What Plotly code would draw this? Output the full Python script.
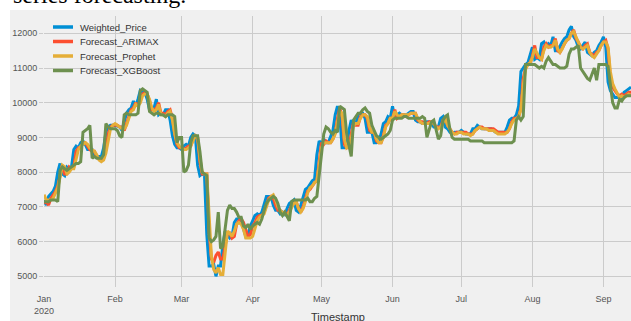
import pandas as pd
import plotly.graph_objects as go

start_date = "2020-01-01"
n_days = 257

weighted_price = [
    7200,7050,7300,7380,7450,7600,8000,8250,7950,7900,8150,8100,8150,8650,8750,8700,8850,8900,8800,8650,8650,8650,8500,8450,8450,8450,8700,9150,9300,9350,9350,
    9350,9330,9300,9200,9450,9700,9800,9850,10050,9900,10100,10350,10300,10300,10100,9800,9800,9850,10100,9650,9700,9650,9800,9800,9500,9050,8800,8700,8700,
    8650,8750,8800,8750,9000,9100,9050,8200,7900,7950,7900,6200,5300,5300,5350,5000,5300,5300,5900,6300,6200,6100,6150,6550,6650,6650,6600,6350,6150,6200,6450,
    6600,6750,6800,6750,6850,7100,7300,7300,7300,7050,6900,6900,6800,6850,6750,6950,7100,7150,7200,6900,6850,7050,7300,7500,7550,7650,7750,7800,8500,8900,
    8800,8950,8850,8850,9000,9200,9650,9900,9600,8700,8700,8750,9200,9500,9350,9400,9650,9700,9700,9550,9150,9150,9150,8850,8850,8900,9100,9400,9450,9600,9550,
    9900,9550,9650,9700,9650,9650,9650,9700,9750,9750,9500,9450,9450,9400,9400,9450,9450,9400,9300,9300,9300,9550,9600,9300,9250,9150,9100,9150,9150,9150,
    9200,9150,9100,9100,9100,9250,9250,9350,9300,9250,9250,9250,9250,9250,9200,9150,9150,9150,9150,9150,9300,9500,9550,9550,9650,9900,10900,11000,11100,11150,11350,
    11600,11250,11300,11250,11700,11750,11600,11700,11650,11900,11500,11500,11650,11750,11850,11900,12100,12200,11900,11800,11600,11550,11650,11750,11450,11400,11350,11450,11500,11650,11750,
    11900,11600,10600,10350,10250,10150,10150,10200,10150,10300,10350,10400,10450,
]

forecast_arimax = [
    7100,7150,7050,7250,7350,7450,7600,7950,8200,7950,7950,8150,8100,8150,8600,8700,8700,8850,8850,8750,8650,8600,8600,8450,8400,8350,8400,8650,9100,9300,9350,
    9350,9350,9300,9300,9200,9400,9650,9800,9850,10000,9900,10050,10250,10300,10250,10050,9800,9800,9850,10000,9700,9700,9650,9750,9800,9550,9100,8800,8700,
    8700,8650,8700,8750,8750,8950,9050,9000,8300,7950,7950,7950,6300,5500,5400,5600,5700,5500,5500,5900,6250,6250,6100,6150,6500,6600,6650,6550,6350,6150,6200,
    6450,6550,6700,6750,6750,6850,7050,7250,7300,7250,7050,6900,6900,6800,6850,6750,6900,7050,7100,7150,6950,6850,7000,7200,7450,7500,7600,7700,7750,8400,
    8850,8800,8900,8850,8850,8950,9150,9550,9850,9600,8800,8700,8700,9100,9450,9350,9350,9600,9650,9650,9550,9200,9150,9150,8900,8850,8850,9050,9350,9400,9550,
    9550,9800,9550,9600,9650,9650,9600,9650,9700,9700,9700,9500,9450,9450,9400,9400,9450,9450,9400,9300,9300,9300,9500,9550,9350,9250,9150,9100,9150,9150,
    9150,9150,9150,9100,9100,9100,9200,9250,9300,9300,9250,9250,9250,9250,9250,9200,9150,9150,9150,9150,9150,9250,9450,9550,9550,9600,9850,10700,11000,11100,11150,
    11350,11650,11300,11300,11250,11600,11700,11600,11650,11650,11850,11500,11450,11600,11700,11800,11850,12000,12100,11850,11750,11600,11550,11650,11700,11450,11400,11350,11450,11500,11650,
    11750,11800,11550,10700,10450,10350,10250,10200,10250,10200,10250,10300,10300,
]

forecast_prophet = [
    7350,7200,7200,7200,7250,7400,7550,7850,8200,8150,7950,8000,8100,8100,8400,8650,8750,8800,8850,8800,8700,8650,8600,8500,8350,8300,8350,8550,8950,9250,9350,
    9400,9350,9300,9250,9250,9350,9550,9750,9800,9950,9900,10000,10200,10250,10250,10100,9850,9750,9800,9950,9650,9650,9600,9700,9750,9500,9100,8850,8750,
    8700,8650,8650,8700,8750,8900,9050,9000,8400,8000,7950,7950,6600,5600,5200,5100,5250,5050,5050,5600,6300,6250,6150,6300,6500,6550,6500,6350,6100,6100,6100,
    6150,6350,6600,6700,6750,6800,7000,7200,7300,7350,7200,7000,6900,6850,6800,6750,6850,7000,7100,7150,6950,6850,6950,7150,7400,7550,7600,7700,7750,8200,
    8700,8850,8850,8850,8850,8950,9100,9450,9750,9700,8950,8700,8750,8950,9350,9400,9400,9550,9650,9650,9600,9300,9150,9150,8950,8850,8850,9000,9300,9400,9550,
    9550,9750,9650,9600,9650,9650,9650,9650,9700,9700,9700,9550,9450,9400,9400,9400,9400,9450,9400,9300,9250,9300,9450,9550,9350,9250,9150,9100,9100,9150,
    9150,9100,9100,9100,9050,9100,9200,9250,9300,9250,9250,9250,9200,9200,9200,9150,9100,9100,9100,9100,9150,9250,9400,9500,9550,9600,9800,10500,10950,11100,11150,
    11300,11550,11400,11300,11250,11500,11650,11600,11600,11650,11800,11550,11450,11550,11700,11800,11850,12000,12050,11900,11750,11600,11550,11600,11650,11450,11350,11300,11400,11500,11650,
    11750,11750,11600,10900,10550,10400,10250,10150,10200,10150,10200,10250,10200,
]

forecast_xgboost = [
    7150,7150,7150,7200,7200,7200,7150,8050,8150,8100,8050,8100,8150,8200,8250,8250,8300,9150,9200,9250,9350,8400,8450,8400,8400,8400,8500,9400,9300,9250,9250,
    9250,9200,9050,9000,9650,9700,9650,9650,9650,9650,9700,10350,10400,10350,10300,9750,9700,9650,9700,9700,9650,9650,9600,9650,9650,9650,9600,8850,9000,
    9000,8000,8050,8200,8850,9050,9050,9050,8600,8000,7950,7900,6100,6000,6050,6150,6850,5800,5850,6300,6900,7050,6950,6950,6850,6700,6700,6450,6400,6500,6350,
    6450,6500,6550,6500,6650,6900,7100,7200,7250,7300,7250,7100,6850,6750,6850,6700,6600,7150,7200,7200,7200,7200,7200,7200,7250,7150,7150,7250,7300,7900,
    8400,9100,9300,9250,9150,9100,9200,9150,9900,9850,9800,9100,8800,8450,9500,9600,9700,9700,9800,9850,9750,9700,9350,9200,9050,9000,8950,9000,9050,9100,9200,
    9500,9550,9550,9550,9550,9600,9600,9550,9550,9550,9550,9550,9550,9600,9550,9000,9200,9450,9500,9200,8950,9050,9500,9600,9650,9250,9000,8950,8950,8950,
    8950,8950,8950,8950,8900,8900,8900,8900,8900,8900,8850,8850,8850,8850,8850,8850,8850,8850,8850,8850,8850,8850,8850,8900,9500,9600,9500,9600,11100,11100,11100,
    11100,11100,11050,11000,11050,11000,11200,11300,11200,11100,11100,11050,11000,11000,11000,11050,11400,11550,11550,11600,11650,11000,10900,10800,10700,10650,10800,11000,10650,11100,11100,
    11100,11100,11050,10500,10000,9850,9850,10100,10050,10150,10200,10200,10200,
]

series_names = ["Weighted_Price", "Forecast_ARIMAX", "Forecast_Prophet", "Forecast_XGBoost"]
series_colors = ["#008fd5", "#fc4f30", "#e5ae38", "#6d904f"]

y_tick_values = [5000, 6000, 7000, 8000, 9000, 10000, 11000, 12000]
y_tick_labels = [str(v) for v in y_tick_values]
x_tick_dates = ["2020-01-01", "2020-02-01", "2020-03-01", "2020-04-01", "2020-05-01",
                "2020-06-01", "2020-07-01", "2020-08-01", "2020-09-01"]
x_tick_labels = ["Jan<br>2020", "Feb", "Mar", "Apr", "May", "Jun", "Jul", "Aug", "Sep"]
x_title = "Timestamp"
caption_text = "series forecasting."

for s in (weighted_price, forecast_arimax, forecast_prophet, forecast_xgboost):
    assert len(s) == n_days, len(s)

dates = pd.date_range(start_date, periods=n_days, freq="D")

W, H = 631, 321
L, R, T, B = 44, 0, 16, 34
pw, ph = W - L - R, H - T - B


def px(x):
    return (x - L) / pw


def py(y):
    return (H - B - y) / ph


fig = go.Figure()
for name, vals, col in zip(series_names,
                           [weighted_price, forecast_arimax, forecast_prophet, forecast_xgboost],
                           series_colors):
    fig.add_trace(go.Scatter(x=dates, y=vals, mode="lines", name=name,
                             line=dict(color=col, width=3), showlegend=False))

shapes = []
annotations = []
# white page strips around the chart image
shapes.append(dict(type="rect", xref="paper", yref="paper", x0=px(0), x1=px(W + 2),
                   y0=py(10), y1=py(-2), fillcolor="white", line=dict(width=0), layer="above"))
shapes.append(dict(type="rect", xref="paper", yref="paper", x0=px(-2), x1=px(10),
                   y0=py(H + 2), y1=py(-2), fillcolor="white", line=dict(width=0), layer="above"))

# manual legend
leg_y = [27, 41.5, 56, 70.5]
for name, col, yy in zip(series_names, series_colors, leg_y):
    shapes.append(dict(type="line", xref="paper", yref="paper", x0=px(53), x1=px(73),
                       y0=py(yy), y1=py(yy), line=dict(color=col, width=3.5), layer="above"))
    annotations.append(dict(xref="paper", yref="paper", x=px(78), y=py(yy), text=name,
                            showarrow=False, xanchor="left", yanchor="middle",
                            font=dict(family="Liberation Sans", size=9.5, color="#333333")))

annotations.append(dict(xref="paper", yref="paper", x=px(337.5), y=py(317), text=x_title,
                        showarrow=False, xanchor="center", yanchor="middle",
                        font=dict(family="Liberation Sans", size=11, color="#333333")))
annotations.append(dict(xref="paper", yref="paper", x=px(11), y=py(10), text=caption_text,
                        showarrow=False, xanchor="left", yanchor="bottom",
                        font=dict(family="Liberation Serif", size=24, color="black")))

fig.update_layout(
    width=W, height=H,
    margin=dict(l=L, r=R, t=T, b=B, pad=0),
    paper_bgcolor="#f0f0f0", plot_bgcolor="#f0f0f0",
    shapes=shapes, annotations=annotations,
    showlegend=False,
    font=dict(family="Liberation Sans", size=9, color="#555555"),
)
fig.update_xaxes(range=["2020-01-01", "2020-09-13"], tickvals=x_tick_dates, ticktext=x_tick_labels,
                 showgrid=True, gridcolor="#cbcbcb", gridwidth=1, zeroline=False,
                 ticks="outside", ticklen=3, tickcolor="#f0f0f0", showline=False,
                 tickfont=dict(size=9, color="#555555"))
fig.update_yaxes(range=[4692, 12498], tickvals=y_tick_values, ticktext=y_tick_labels,
                 showgrid=True, gridcolor="#cbcbcb", gridwidth=1, zeroline=False,
                 ticks="outside", ticklen=4, tickcolor="#cbcbcb", showline=False,
                 tickfont=dict(size=9, color="#555555"))

fig.write_html("out.html")
